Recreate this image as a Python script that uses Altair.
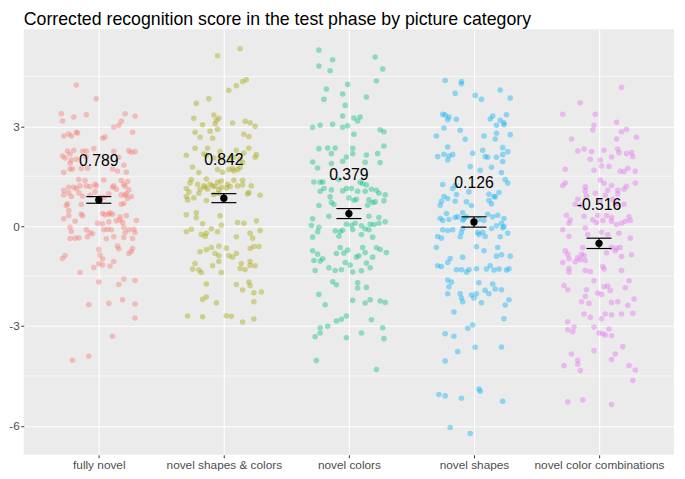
import json
import altair as alt
import pandas as pd

categories = ["fully novel", "novel shapes & colors", "novel colors",
              "novel shapes", "novel color combinations"]
colors = ["#F8766D", "#A3A500", "#00BF7D", "#00B0F6", "#E76BF3"]
means = [0.789, 0.842, 0.379, 0.126, -0.516]
se = [0.10, 0.135, 0.15, 0.155, 0.155]
y_ticks = [-6, -3, 0, 3]
y_minor = [-4.5, -1.5, 1.5, 4.5]

# (horizontal jitter in category units, score)
fully_novel = [
    (-0.18, 4.24), (-0.02, 3.83), (-0.30, 3.38), (-0.29, 3.16), (-0.10, 3.35), (-0.20, 3.28),
    (0.21, 3.38), (0.29, 3.30), (0.18, 3.15), (0.16, 3.03), (0.12, 2.98), (0.27, 2.82),
    (-0.28, 2.71), (-0.24, 2.77), (-0.22, 2.71), (-0.18, 2.82), (-0.17, 2.80), (0.03, 2.64),
    (0.05, 2.68), (-0.29, 2.11), (-0.27, 2.05), (-0.25, 2.25), (-0.20, 2.28), (-0.13, 2.25),
    (-0.10, 2.26), (-0.04, 2.33), (0.12, 2.25), (0.24, 2.27), (0.26, 2.22), (0.29, 2.24),
    (-0.23, 2.17), (-0.22, 1.99), (-0.18, 2.01), (-0.10, 2.09), (0.16, 2.07), (0.20, 1.83),
    (-0.23, 1.89), (-0.23, 1.72), (-0.21, 1.72), (-0.28, 1.61), (-0.14, 1.73), (-0.09, 1.74),
    (0.11, 1.72), (0.15, 1.66), (0.22, 1.62), (-0.16, 1.40), (-0.11, 1.37), (0.04, 1.39),
    (0.18, 1.37), (0.20, 1.25), (0.23, 1.34), (0.12, 1.21), (-0.28, 1.08), (-0.24, 1.17),
    (-0.15, 1.21), (-0.20, 1.17), (-0.18, 1.13), (-0.10, 1.21), (-0.07, 1.19), (-0.03, 1.26),
    (-0.02, 1.21), (0.11, 1.17), (0.14, 1.11), (0.21, 1.20), (0.24, 1.09), (0.22, 0.97),
    (-0.28, 0.94), (-0.24, 1.00), (-0.22, 0.89), (-0.16, 1.00), (-0.13, 0.90), (-0.07, 0.93),
    (-0.03, 1.03), (0.01, 0.87), (0.04, 0.87), (0.08, 0.97), (0.18, 0.94), (0.21, 0.93),
    (0.26, 0.89), (0.23, 0.83), (-0.25, 0.67), (-0.26, 0.62), (-0.14, 0.65), (0.00, 0.78),
    (0.18, 0.66), (0.20, 0.68), (-0.24, 0.47), (-0.14, 0.36), (-0.13, 0.31), (0.03, 0.38),
    (0.05, 0.34), (0.08, 0.36), (0.09, 0.40), (0.11, 0.36), (0.17, 0.28), (0.22, 0.31),
    (-0.28, 0.22), (-0.24, 0.32), (-0.19, 0.15), (-0.01, 0.09), (0.03, 0.07), (0.08, 0.13),
    (0.14, 0.16), (0.17, 0.19), (0.19, 0.11), (0.30, 0.17), (-0.23, -0.03), (-0.22, -0.16),
    (-0.10, -0.11), (-0.07, -0.20), (-0.05, -0.23), (0.04, -0.11), (0.07, -0.09), (0.10, -0.11),
    (0.20, -0.03), (0.24, -0.11), (0.28, -0.09), (0.29, -0.19), (0.21, -0.19), (-0.23, -0.37),
    (-0.19, -0.36), (-0.16, -0.35), (-0.09, -0.32), (0.06, -0.38), (0.12, -0.32), (0.20, -0.34),
    (0.27, -0.37), (0.00, -0.70), (0.15, -0.60), (0.16, -0.68), (0.27, -0.67), (0.26, -0.76),
    (0.24, -0.82), (-0.29, -0.97), (-0.27, -0.88), (0.01, -0.87), (0.03, -0.99), (0.12, -1.06),
    (0.00, -1.13), (-0.04, -1.24), (0.03, -1.17), (0.09, -1.20), (-0.15, -1.39), (0.00, -1.68),
    (0.16, -1.75), (0.20, -1.59), (0.29, -1.63), (-0.08, -2.36), (0.08, -2.32), (0.19, -2.21),
    (0.29, -2.34), (0.29, -2.76), (0.11, -3.31), (-0.08, -3.91), (-0.21, -4.03),
]

novel_shapes_colors = [
    (0.13, 5.33), (-0.05, 5.12), (0.15, 4.35), (0.18, 4.40), (0.10, 4.22), (0.04, 4.08),
    (-0.22, 3.69), (-0.12, 3.83), (-0.08, 3.34), (-0.04, 3.24), (-0.06, 3.18), (-0.07, 3.08),
    (-0.24, 3.24), (-0.17, 3.05), (0.07, 3.10), (0.17, 3.15), (0.21, 3.11), (0.25, 3.00),
    (-0.05, 2.91), (-0.11, 2.85), (-0.23, 2.82), (0.16, 2.76), (0.20, 2.69), (-0.19, 2.67),
    (-0.09, 2.64), (-0.23, 2.34), (-0.30, 2.13), (-0.13, 2.34), (-0.03, 2.24), (0.10, 2.28),
    (0.16, 2.20), (0.20, 2.34), (0.26, 2.15), (0.25, 2.07), (-0.16, 2.17), (-0.14, 2.13),
    (-0.08, 2.05), (-0.03, 2.05), (0.05, 2.05), (0.08, 2.07), (0.13, 2.00), (0.15, 1.91),
    (0.13, 1.76), (0.11, 1.70), (0.07, 1.73), (0.04, 1.70), (-0.25, 1.78), (-0.20, 1.61),
    (-0.05, 1.70), (-0.01, 1.62), (0.08, 1.66), (-0.26, 1.40), (-0.27, 1.30), (-0.21, 1.26),
    (-0.16, 1.21), (-0.14, 1.42), (-0.11, 1.26), (-0.09, 1.21), (-0.05, 1.32), (-0.02, 1.36),
    (0.03, 1.26), (0.08, 1.38), (0.15, 1.38), (-0.30, 1.13), (-0.28, 1.03), (-0.19, 1.11),
    (-0.15, 1.17), (-0.13, 1.11), (-0.07, 1.19), (-0.04, 1.09), (-0.02, 1.17), (0.02, 1.15),
    (0.05, 1.19), (0.11, 1.21), (0.15, 1.24), (0.22, 1.21), (-0.30, 0.89), (-0.29, 0.79),
    (-0.24, 0.85), (-0.20, 0.99), (-0.14, 0.77), (-0.04, 0.99), (-0.08, 0.95), (0.19, 0.97),
    (0.20, 1.01), (0.29, 0.93), (0.00, 0.83), (-0.30, 0.34), (-0.22, 0.40), (-0.22, 0.25),
    (-0.03, 0.31), (0.11, 0.11), (0.16, 0.09), (0.26, 0.16), (-0.17, 0.07), (-0.10, -0.08),
    (-0.14, -0.21), (-0.15, -0.30), (-0.18, -0.25), (-0.30, -0.17), (-0.26, -0.09), (-0.05, -0.17),
    (-0.02, 0.03), (0.10, -0.32), (0.21, -0.21), (0.23, -0.36), (0.29, -0.13), (-0.19, -0.77),
    (-0.14, -0.71), (-0.10, -0.64), (-0.04, -0.60), (0.02, -0.66), (-0.07, -0.82), (-0.04, -0.89),
    (-0.04, -1.06), (0.04, -0.89), (0.07, -0.93), (0.10, -0.82), (0.21, -0.67), (0.24, -0.61),
    (0.28, -0.61), (-0.23, -1.12), (-0.25, -1.29), (-0.20, -1.32), (-0.18, -1.39), (-0.09, -1.19),
    (-0.02, -1.39), (0.14, -1.12), (0.13, -1.27), (0.17, -1.30), (0.21, -1.06), (0.21, -1.18),
    (0.25, -1.19), (-0.14, -1.74), (0.10, -1.75), (0.20, -1.68), (0.21, -1.78), (0.15, -1.92),
    (0.24, -2.00), (0.30, -1.98), (-0.17, -2.20), (-0.14, -2.13), (-0.06, -2.30), (0.24, -2.27),
    (-0.29, -2.70), (-0.17, -2.72), (0.02, -2.69), (0.06, -2.71), (0.15, -2.88), (0.24, -2.79),
]

novel_colors = [
    (-0.24, 5.29), (-0.13, 5.00), (-0.24, 4.81), (-0.15, 4.67), (0.21, 5.08), (0.27, 4.72),
    (0.22, 4.36), (-0.01, 4.26), (-0.18, 4.12), (-0.20, 3.81), (-0.05, 3.97), (0.14, 3.88),
    (-0.03, 3.63), (-0.05, 3.31), (0.04, 3.25), (0.09, 3.28), (0.07, 3.16), (-0.29, 2.97),
    (-0.23, 3.03), (-0.13, 3.06), (-0.05, 2.97), (-0.01, 3.02), (0.04, 2.76), (0.25, 2.90),
    (0.28, 2.84), (0.28, 2.41), (-0.24, 2.33), (-0.17, 2.35), (-0.11, 2.35), (-0.14, 2.18),
    (0.03, 2.34), (0.03, 2.18), (-0.02, 2.08), (0.14, 2.14), (0.23, 2.18), (-0.29, 1.93),
    (-0.25, 1.75), (-0.14, 1.88), (-0.05, 1.95), (0.13, 1.92), (0.25, 1.91), (-0.28, 1.33),
    (-0.23, 1.32), (-0.21, 1.33), (-0.23, 1.05), (-0.20, 1.13), (-0.14, 1.09), (-0.08, 1.40),
    (-0.05, 1.06), (-0.02, 1.13), (0.02, 1.13), (0.07, 1.05), (0.09, 1.32), (0.11, 1.28),
    (0.14, 1.24), (0.13, 1.05), (0.18, 1.11), (0.22, 1.08), (0.24, 0.99), (0.29, 0.94),
    (-0.24, 0.62), (-0.15, 0.88), (-0.14, 0.71), (-0.12, 0.65), (0.00, 0.85), (0.04, 0.78),
    (0.06, 0.81), (0.16, 0.79), (0.15, 0.63), (0.19, 0.71), (0.21, 0.73), (0.28, 0.76),
    (-0.16, 0.30), (-0.29, 0.22), (-0.30, 0.02), (-0.24, -0.03), (-0.25, -0.17), (-0.29, -0.33),
    (-0.11, -0.14), (-0.08, -0.30), (-0.07, -0.17), (-0.05, -0.12), (-0.02, 0.06), (0.02, 0.03),
    (0.03, -0.10), (0.05, 0.09), (0.10, 0.01), (0.13, -0.08), (0.16, -0.11), (0.17, 0.06),
    (0.20, 0.05), (0.24, 0.26), (0.24, 0.09), (0.29, 0.13), (0.10, -0.25), (0.19, -0.33),
    (0.16, 0.30), (-0.29, -0.74), (-0.25, -0.84), (-0.23, -1.05), (-0.21, -0.98), (-0.27, -1.33),
    (-0.28, -1.03), (-0.16, -1.25), (-0.11, -1.33), (-0.06, -1.31), (-0.10, -0.82), (-0.07, -0.64),
    (-0.04, -0.81), (-0.01, -0.72), (-0.03, -1.09), (0.01, -1.17), (0.03, -1.38), (0.06, -0.93),
    (0.08, -0.89), (0.11, -0.64), (0.13, -0.79), (0.10, -1.34), (0.14, -1.11), (0.17, -1.25),
    (0.19, -0.93), (0.22, -0.65), (0.25, -0.70), (0.30, -0.79), (-0.13, -1.67), (-0.10, -1.76),
    (0.07, -1.70), (0.07, -1.86), (0.14, -1.84), (-0.24, -2.05), (-0.19, -2.36), (0.03, -2.23),
    (0.13, -2.31), (0.17, -2.21), (0.25, -2.25), (0.29, -2.29), (-0.10, -2.85), (-0.06, -2.80),
    (-0.02, -2.70), (-0.17, -3.01), (-0.23, -3.05), (-0.23, -3.21), (-0.27, -3.32), (-0.02, -3.35),
    (0.10, -3.21), (0.18, -2.81), (0.27, -3.05), (0.28, -3.38), (-0.26, -4.04), (0.22, -4.31),
]

novel_shapes = [
    (-0.23, 4.38), (-0.10, 4.35), (-0.10, 4.28), (-0.15, 3.99), (0.01, 3.93), (0.06, 3.81),
    (0.21, 4.09), (0.29, 3.85), (-0.25, 3.36), (-0.23, 3.34), (-0.20, 3.28), (-0.21, 3.20),
    (-0.14, 3.21), (-0.24, 2.95), (-0.11, 2.88), (-0.07, 2.61), (-0.30, 2.71), (0.13, 3.22),
    (0.15, 3.31), (0.21, 3.18), (0.24, 3.11), (0.24, 3.05), (0.26, 3.35), (0.18, 3.03),
    (0.18, 2.79), (0.17, 2.62), (0.29, 2.75), (0.08, 2.71), (-0.21, 2.38), (-0.29, 2.09),
    (-0.24, 2.16), (-0.20, 2.11), (-0.21, 1.99), (-0.17, 2.15), (-0.01, 2.19), (0.07, 2.28),
    (0.09, 2.09), (0.11, 2.07), (0.18, 2.07), (0.23, 2.15), (0.23, 2.36), (0.27, 2.24),
    (0.23, 1.94), (-0.03, 1.79), (0.05, 1.68), (0.14, 1.77), (0.22, 1.61), (0.25, 1.40),
    (0.27, 1.30), (-0.25, 1.25), (-0.17, 1.13), (-0.15, 1.22), (-0.04, 1.03), (0.12, 0.96),
    (0.20, 1.01), (0.16, 0.89), (-0.24, 0.89), (-0.27, 0.63), (-0.26, 0.75), (-0.21, 0.83),
    (-0.14, 0.95), (-0.15, 0.75), (-0.06, 0.73), (-0.02, 0.62), (0.12, 0.77), (0.14, 0.67),
    (0.17, 0.88), (-0.27, 0.24), (-0.25, 0.17), (-0.22, 0.38), (-0.20, 0.20), (-0.15, 0.26),
    (-0.13, 0.28), (-0.09, 0.18), (-0.08, 0.22), (-0.06, 0.28), (-0.09, 0.40), (0.00, 0.12),
    (0.04, 0.20), (0.08, 0.17), (0.11, 0.36), (0.15, 0.28), (0.19, 0.33), (0.24, 0.23),
    (0.22, 0.09), (-0.25, -0.11), (-0.21, -0.13), (-0.17, -0.11), (-0.10, -0.19), (-0.11, -0.32),
    (-0.09, -0.07), (-0.29, -0.31), (-0.26, -0.36), (0.03, -0.19), (0.04, -0.25), (0.07, -0.19),
    (0.09, -0.31), (0.14, -0.07), (0.18, 0.01), (0.23, -0.05), (0.24, -0.01), (0.21, -0.32),
    (0.27, -0.21), (-0.30, -0.64), (0.02, -0.62), (0.08, -0.74), (0.19, -0.64), (-0.19, -0.97),
    (-0.21, -1.09), (-0.09, -0.93), (0.18, -0.90), (0.22, -0.86), (0.29, -0.90), (-0.29, -1.19),
    (-0.26, -1.21), (-0.14, -1.31), (-0.10, -1.31), (-0.06, -1.38), (-0.04, -1.31), (0.02, -1.28),
    (0.10, -1.29), (0.13, -1.19), (0.16, -1.32), (0.20, -1.29), (0.26, -1.32), (0.28, -1.28),
    (-0.21, -1.62), (-0.18, -1.68), (-0.20, -1.82), (-0.21, -2.03), (0.04, -1.70), (0.15, -1.74),
    (0.09, -1.93), (0.12, -2.03), (0.17, -1.89), (0.22, -1.91), (-0.11, -2.03), (-0.10, -2.16),
    (-0.09, -2.27), (-0.02, -2.07), (0.02, -2.03), (0.00, -2.16), (0.06, -2.30), (0.28, -2.21),
    (0.25, -2.37), (0.24, -2.78), (-0.16, -2.58), (-0.23, -3.23), (-0.16, -3.31), (-0.05, -3.07),
    (-0.01, -2.97), (0.01, -3.64), (0.22, -3.63), (-0.13, -3.77), (-0.23, -4.05), (-0.28, -5.06),
    (-0.23, -5.10), (-0.10, -5.17), (0.04, -4.89), (0.05, -4.96), (0.23, -5.26), (-0.19, -6.05),
    (-0.03, -6.23),
]

novel_color_combinations = [
    (0.18, 4.17), (-0.15, 3.71), (-0.29, 3.36), (-0.03, 3.36), (0.14, 3.12), (-0.04, 3.03),
    (-0.05, 2.89), (0.18, 2.84), (0.22, 2.91), (-0.22, 2.62), (0.30, 2.67), (0.14, 2.62),
    (-0.17, 2.26), (-0.12, 2.32), (-0.06, 2.24), (0.04, 2.28), (0.15, 2.32), (0.16, 2.21),
    (0.22, 2.18), (0.26, 2.21), (0.27, 2.09), (0.10, 2.08), (-0.07, 2.01), (0.01, 1.99),
    (0.02, 1.81), (0.08, 1.79), (-0.04, 1.68), (-0.27, 1.71), (0.17, 1.65), (0.20, 1.64),
    (0.23, 1.74), (0.29, 1.65), (-0.29, 1.22), (-0.27, 1.30), (0.01, 1.39), (0.04, 1.29),
    (0.10, 1.22), (0.22, 1.20), (0.29, 1.30), (-0.11, 1.18), (-0.11, 1.06), (-0.03, 0.99),
    (0.07, 1.08), (0.05, 0.93), (0.15, 1.08), (0.15, 0.97), (0.20, 1.11), (-0.10, 0.91),
    (-0.17, 0.81), (-0.19, 0.66), (-0.14, 0.63), (0.01, 0.75), (0.11, 0.81), (0.14, 0.67),
    (0.20, 0.66), (-0.26, 0.33), (-0.24, 0.09), (-0.23, 0.19), (-0.29, -0.11), (-0.24, -0.31),
    (-0.12, 0.30), (-0.05, 0.19), (-0.02, 0.11), (-0.01, 0.32), (0.03, 0.17), (0.06, 0.32),
    (0.10, 0.15), (0.10, 0.26), (0.14, 0.05), (0.18, 0.09), (0.21, 0.15), (0.24, 0.28),
    (0.25, 0.17), (-0.11, -0.05), (-0.09, -0.25), (0.02, -0.18), (0.07, -0.25), (0.16, -0.21),
    (0.25, -0.36), (-0.27, -0.74), (-0.25, -0.84), (-0.24, -0.98), (-0.24, -1.27), (-0.24, -1.38),
    (-0.29, -1.09), (-0.19, -1.07), (-0.17, -0.95), (-0.14, -0.84), (-0.15, -1.01), (-0.12, -0.89),
    (-0.11, -1.03), (-0.13, -0.64), (-0.11, -1.33), (-0.07, -1.36), (-0.04, -1.64), (0.03, -1.21),
    (0.04, -1.29), (0.06, -0.80), (0.10, -0.64), (0.14, -0.66), (0.17, -0.64), (0.18, -0.91),
    (0.26, -0.86), (0.13, -0.74), (0.18, -1.33), (-0.28, -1.78), (-0.25, -1.91), (-0.10, -1.91),
    (-0.11, -2.11), (-0.14, -2.27), (-0.08, -2.32), (-0.01, -2.01), (0.02, -2.05), (0.04, -1.82),
    (0.07, -1.80), (0.09, -1.93), (0.10, -2.29), (0.15, -2.27), (0.21, -1.85), (0.24, -1.64),
    (0.28, -2.19), (0.23, -2.38), (-0.12, -2.64), (-0.07, -2.74), (0.02, -2.78), (0.05, -2.64),
    (0.10, -2.66), (0.18, -2.64), (0.27, -2.62), (-0.25, -2.87), (-0.25, -3.11), (-0.20, -3.03),
    (-0.21, -3.17), (-0.04, -3.03), (0.00, -3.21), (0.03, -3.23), (0.05, -3.27), (0.08, -3.09),
    (0.10, -3.29), (0.19, -3.62), (-0.04, -3.74), (-0.22, -3.84), (-0.17, -4.03), (-0.17, -4.15),
    (-0.15, -4.34), (-0.28, -4.19), (0.10, -4.01), (0.13, -3.84), (0.24, -4.19), (0.29, -4.32),
    (0.27, -4.64), (-0.25, -5.28), (-0.13, -5.22), (0.10, -5.36),
]

groups = [fully_novel, novel_shapes_colors, novel_colors, novel_shapes,
          novel_color_combinations]

rows = []
for i, (cat, pts) in enumerate(zip(categories, groups)):
    for dx, yv in pts:
        rows.append({"category": cat, "idx": i + 1, "dx": dx, "score": yv})
points_df = pd.DataFrame(rows)

summary_df = pd.DataFrame({
    "category": categories,
    "idx": list(range(1, len(categories) + 1)),
    "mean": means,
    "se": se,
    "label": [f"{m:.3f}" for m in means],
})
minor_df = pd.DataFrame({"v": y_minor})

FONT = "Liberation Sans"
label_js = json.dumps(categories)

x_scale = alt.Scale(domain=[0.4, 5.6], nice=False, zero=False)
y_scale = alt.Scale(domain=[-6.87, 5.92], nice=False, zero=False)

x_axis = alt.Axis(values=[1, 2, 3, 4, 5], labelExpr=f"{label_js}[datum.value - 1]",
                  title=None, grid=True, labelFlush=False, labelOverlap=False)
y_axis = alt.Axis(values=y_ticks, labelExpr="'' + datum.value", title=None, grid=True)

minor = alt.Chart(minor_df).mark_rule(color="white", strokeWidth=0.6).encode(
    y=alt.Y("v:Q", scale=y_scale, axis=y_axis)
)

pts = alt.Chart(points_df).mark_circle(size=32, opacity=0.4).transform_calculate(
    xpos="datum.idx + datum.dx"
).encode(
    x=alt.X("xpos:Q", scale=x_scale, axis=x_axis),
    y=alt.Y("score:Q", scale=y_scale, axis=y_axis),
    color=alt.Color("category:N", scale=alt.Scale(domain=categories, range=colors), legend=None),
)

base = alt.Chart(summary_df).transform_calculate(
    lo="datum.mean - datum.se", hi="datum.mean + datum.se",
    xl="datum.idx - 0.1", xr="datum.idx + 0.1",
)

vbar = base.mark_rule(color="black", strokeWidth=1.2).encode(
    x=alt.X("idx:Q", scale=x_scale, axis=x_axis),
    y=alt.Y("lo:Q", scale=y_scale, axis=y_axis), y2="hi:Q",
)
cap_lo = base.mark_rule(color="black", strokeWidth=1.2).encode(
    x=alt.X("xl:Q", scale=x_scale, axis=x_axis), x2="xr:Q",
    y=alt.Y("lo:Q", scale=y_scale, axis=y_axis),
)
cap_hi = base.mark_rule(color="black", strokeWidth=1.2).encode(
    x=alt.X("xl:Q", scale=x_scale, axis=x_axis), x2="xr:Q",
    y=alt.Y("hi:Q", scale=y_scale, axis=y_axis),
)
mean_pt = base.mark_circle(color="black", size=55, opacity=1).encode(
    x=alt.X("idx:Q", scale=x_scale, axis=x_axis),
    y=alt.Y("mean:Q", scale=y_scale, axis=y_axis),
)
labels = base.mark_text(fontSize=16, font=FONT, color="black", dy=-39).encode(
    x=alt.X("idx:Q", scale=x_scale, axis=x_axis),
    y=alt.Y("mean:Q", scale=y_scale, axis=y_axis),
    text="label:N",
)

chart = alt.layer(minor, pts, vbar, cap_lo, cap_hi, mean_pt, labels).properties(
    width=660,
    height=432,
    padding={"left": 0, "top": 0, "right": 2, "bottom": 0},
    background="white",
    title=alt.TitleParams(
        "Corrected recognition score in the test phase by picture category",
        anchor="start", frame="group", font=FONT, fontSize=18, fontWeight="normal",
        color="black", offset=0,
    ),
).configure_view(fill="#EBEBEB", strokeWidth=0).configure_axis(
    gridColor="white", gridWidth=1.1, domain=False, tickColor="#333333", tickSize=3,
    tickWidth=1, labelColor="#4D4D4D", labelFont=FONT, labelFontSize=12, labelPadding=1.5,
)

chart.save("out.html", embed_options={"renderer": "svg", "actions": False})
